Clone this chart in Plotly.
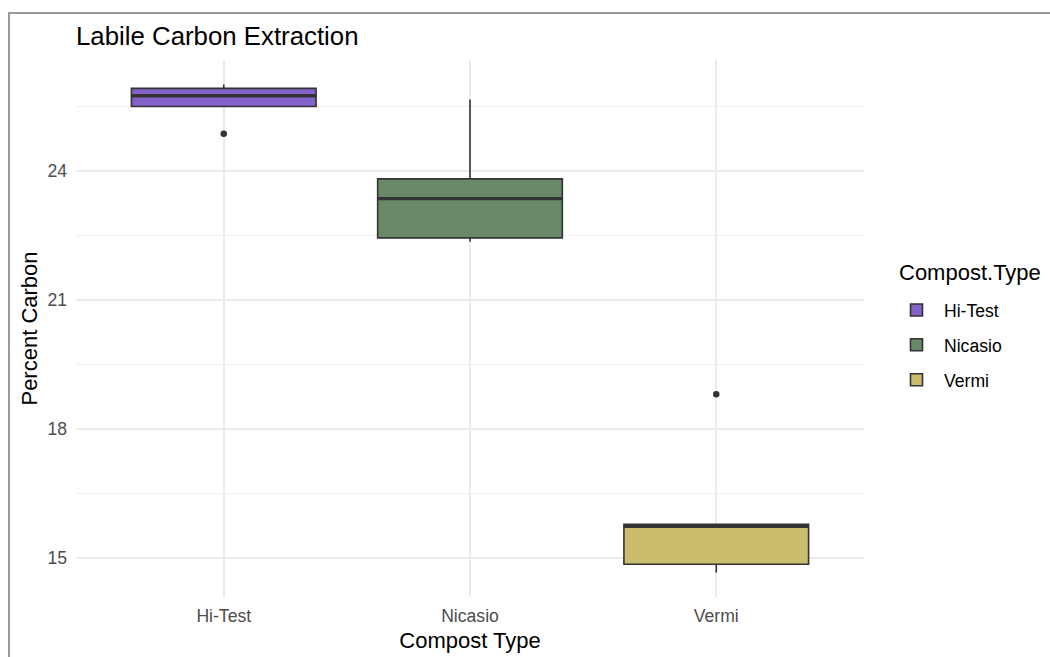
import plotly.graph_objects as go

# Summary statistics of labile carbon (%) for each compost type
compost_types = ["Hi-Test", "Nicasio", "Vermi"]
lower_whisker = [25.49, 22.35, 14.67]
q1 = [25.49, 22.44, 14.86]
median = [25.74, 23.35, 15.74]
q3 = [25.91, 23.81, 15.79]
upper_whisker = [26.00, 25.65, 15.79]
fill_colors = ["#8361C8", "#688968", "#CBBD6E"]

# Observations beyond the whiskers
outlier_type = ["Hi-Test", "Vermi"]
outlier_value = [24.86, 18.81]

y_ticks = [15, 18, 21, 24]

line_col = "#333333"
box_width = 0.75
font_family = "Liberation Sans, Arial, sans-serif"

fig = go.Figure()

for i, name in enumerate(compost_types):
    fig.add_trace(go.Box(
        name=name,
        x=[name],
        q1=[q1[i]],
        median=[median[i]],
        q3=[q3[i]],
        lowerfence=[lower_whisker[i]],
        upperfence=[upper_whisker[i]],
        fillcolor=fill_colors[i],
        line=dict(color=line_col, width=1.6),
        whiskerwidth=0,
        width=box_width,
        legendgroup=name,
        hoverinfo="skip",
    ))
    # thicker median bar drawn over the box
    fig.add_shape(
        type="line", xref="x", yref="y",
        x0=i - box_width / 2, x1=i + box_width / 2,
        y0=median[i], y1=median[i],
        line=dict(color=line_col, width=3.4),
        layer="above",
    )

fig.add_trace(go.Scatter(
    x=outlier_type,
    y=outlier_value,
    mode="markers",
    marker=dict(color=line_col, size=6.5),
    showlegend=False,
    hoverinfo="skip",
))

# plot area in pixels
plot_l, plot_r, plot_t, plot_b = 76, 864, 60, 597
pw, ph = plot_r - plot_l, plot_b - plot_t

# outer frame of the figure
fig.add_shape(
    type="rect", xref="paper", yref="paper",
    x0=(9 - plot_l) / pw, x1=(1070 - plot_l) / pw,
    y0=(plot_b - 680) / ph, y1=(plot_b - 13) / ph,
    line=dict(color="#999999", width=2),
    fillcolor="rgba(0,0,0,0)",
    layer="below",
)

# legend heading
fig.add_annotation(
    text="Compost.Type",
    xref="paper", yref="paper",
    x=(897 - plot_l) / pw, xanchor="left",
    y=(plot_b - 272) / ph, yanchor="middle",
    showarrow=False,
    font=dict(size=22, color="black"),
)

fig.update_layout(
    width=1050,
    height=657,
    margin=dict(l=plot_l, r=1050 - plot_r, t=plot_t, b=657 - plot_b, autoexpand=False),
    paper_bgcolor="white",
    plot_bgcolor="white",
    font=dict(family=font_family, color="black"),
    boxmode="overlay",
    title=dict(
        text="Labile Carbon Extraction",
        font=dict(size=25.8, color="black"),
        x=0, xref="paper", xanchor="left",
        y=1 - 36 / 657, yref="container", yanchor="middle",
    ),
    xaxis=dict(
        type="category",
        categoryorder="array",
        categoryarray=compost_types,
        range=[-0.6, 2.6],
        automargin=False,
        showgrid=True,
        gridcolor="#EBEBEB",
        gridwidth=1.5,
        zeroline=False,
        showline=False,
        ticks="",
        ticklabelstandoff=6,
        tickfont=dict(size=17.6, color="#4D4D4D"),
        title=dict(text="Compost Type", font=dict(size=22, color="black"), standoff=8),
    ),
    yaxis=dict(
        range=[14.10, 26.57],
        tickvals=y_ticks,
        automargin=False,
        showgrid=True,
        gridcolor="#EBEBEB",
        gridwidth=1.5,
        minor=dict(dtick=1.5, tick0=15, showgrid=True, gridcolor="#F0F0F0", gridwidth=1),
        zeroline=False,
        showline=False,
        ticks="",
        ticklabelstandoff=8,
        tickfont=dict(size=17.6, color="#4D4D4D"),
        title=dict(text="Percent Carbon", font=dict(size=22, color="black"), standoff=3),
    ),
    legend=dict(
        font=dict(size=17.6, color="black"),
        x=(889 - plot_l) / pw, xanchor="left",
        y=(plot_b - 292) / ph, yanchor="top",
        itemwidth=45,
        tracegroupgap=9,
        bgcolor="rgba(0,0,0,0)",
    ),
)

fig.write_html("out.html")
